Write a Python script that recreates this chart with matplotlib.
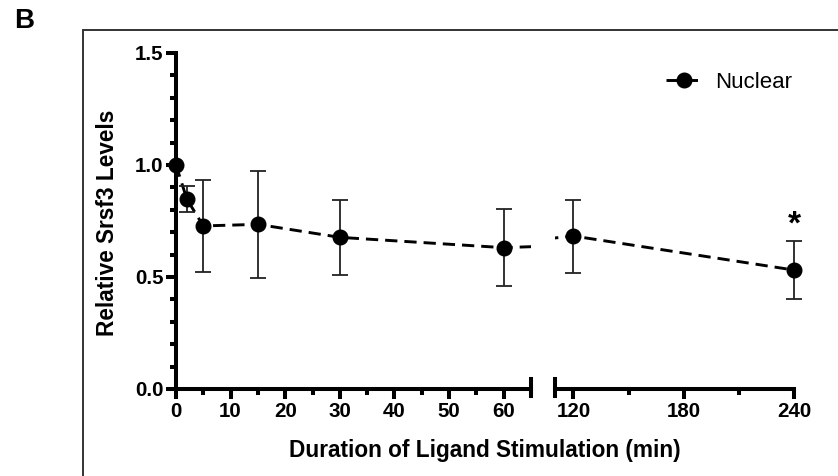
import matplotlib
matplotlib.use("Agg")
import matplotlib.pyplot as plt
from matplotlib.patches import Rectangle
from matplotlib.ticker import MultipleLocator, FixedLocator, FormatStrFormatter
import numpy as np

plt.rcParams['font.family'] = ['Liberation Sans', 'DejaVu Sans']

time_min = [0, 2, 5, 15, 30, 60, 120, 240]
nuclear = [1.0, 0.847, 0.728, 0.735, 0.677, 0.631, 0.683, 0.531]
err_upper = [0.0, 0.061, 0.205, 0.237, 0.168, 0.171, 0.161, 0.131]
err_lower = [0.0, 0.058, 0.206, 0.238, 0.168, 0.171, 0.164, 0.131]
left_ticks = [0, 10, 20, 30, 40, 50, 60]
right_ticks = [120, 180, 240]
star_time = 240
star_y = 0.73

W, H = 838, 476
fig = plt.figure(figsize=(W / 100, H / 100), dpi=100)

def fx(px):
    return px / W

def fy(py):
    return 1 - py / H

ax1 = fig.add_axes([fx(176), fy(389), fx(531) - fx(176), fy(53) - fy(389)])
ax2 = fig.add_axes([fx(555), fy(389), fx(794) - fx(555), fy(53) - fy(389)])

t = np.array(time_min)
y = np.array(nuclear)
eu = np.array(err_upper)
el = np.array(err_lower)

lw_axis = 2.9
dash = (0, (4.2, 2.4))
for ax, (lo, hi) in ((ax1, (0, 65)), (ax2, (110, 240))):
    ax.plot(t, y, color='black', lw=2.1, ls=dash, clip_on=True, zorder=2)
    m = (t >= lo) & (t <= hi)
    eb = ax.errorbar(t[m], y[m], yerr=[el[m], eu[m]], fmt='o', color='black', ms=10.5,
                     ecolor='#222222', elinewidth=1.3, capsize=5.5, capthick=1.3, zorder=3)
    for art in eb.lines[0:1] + tuple(eb.lines[1]) + tuple(eb.lines[2]):
        art.set_clip_on(False)
    ax.set_xlim(lo, hi)
    ax.set_ylim(0, 1.5)
    for s in ('top', 'right'):
        ax.spines[s].set_visible(False)
    ax.spines['bottom'].set_linewidth(lw_axis)
    ax.spines['left'].set_linewidth(lw_axis)
    ax.tick_params(which='major', length=7.5, width=lw_axis, labelsize=14.8, pad=2)
    ax.tick_params(which='minor', length=4.5, width=lw_axis)
    ax.patch.set_alpha(0)

ax1.xaxis.set_major_locator(FixedLocator(left_ticks))
ax1.xaxis.set_minor_locator(MultipleLocator(5))
ax1.yaxis.set_major_locator(MultipleLocator(0.5))
ax1.yaxis.set_minor_locator(MultipleLocator(0.1))
ax1.yaxis.set_major_formatter(FormatStrFormatter('%.1f'))
ax1.tick_params(axis='y', which='major', pad=1.5)

ax2.spines['left'].set_visible(False)
ax2.tick_params(axis='y', which='both', left=False, labelleft=False)
ax2.xaxis.set_major_locator(FixedLocator(right_ticks))
ax2.xaxis.set_minor_locator(FixedLocator([150, 210]))

for ax in (ax1, ax2):
    for lab in ax.get_xticklabels() + ax.get_yticklabels():
        lab.set_fontweight('bold')

# break end ticks
ax1.axvline(65, ymin=-7 / 336, ymax=10 / 336, color='black', lw=lw_axis, clip_on=False)
ax2.axvline(110, ymin=-7 / 336, ymax=10 / 336, color='black', lw=lw_axis, clip_on=False)

fig.text(fx(107), fy(223), 'Relative Srsf3 Levels', fontsize=16.3, fontweight='bold',
         rotation=90, ha='center', va='center')
fig.text(fx(485), fy(451), 'Duration of Ligand Stimulation (min)', fontsize=16.3,
         fontweight='bold', ha='center', va='center')

ax2.text(star_time, star_y, '*', ha='center', va='center', fontsize=24, fontweight='bold')

h, = ax2.plot([], [], color='black', lw=2.1, ls=dash, marker='o', ms=10.5)
fig.legend([h], ['Nuclear'], loc='center left', bbox_to_anchor=(fx(666), fy(82)),
           frameon=False, fontsize=16, handlelength=1.6, borderpad=0, borderaxespad=0,
           handletextpad=0.6)

fig.text(fx(14), fy(21), 'B', fontsize=20, fontweight='bold', ha='left', va='center')

fig.add_artist(Rectangle((fx(83), -0.2), 1.2, fy(30) + 0.2, transform=fig.transFigure,
                         fill=False, lw=1.4, edgecolor='#333333', clip_on=False))

fig.savefig('out.png', dpi=100)
